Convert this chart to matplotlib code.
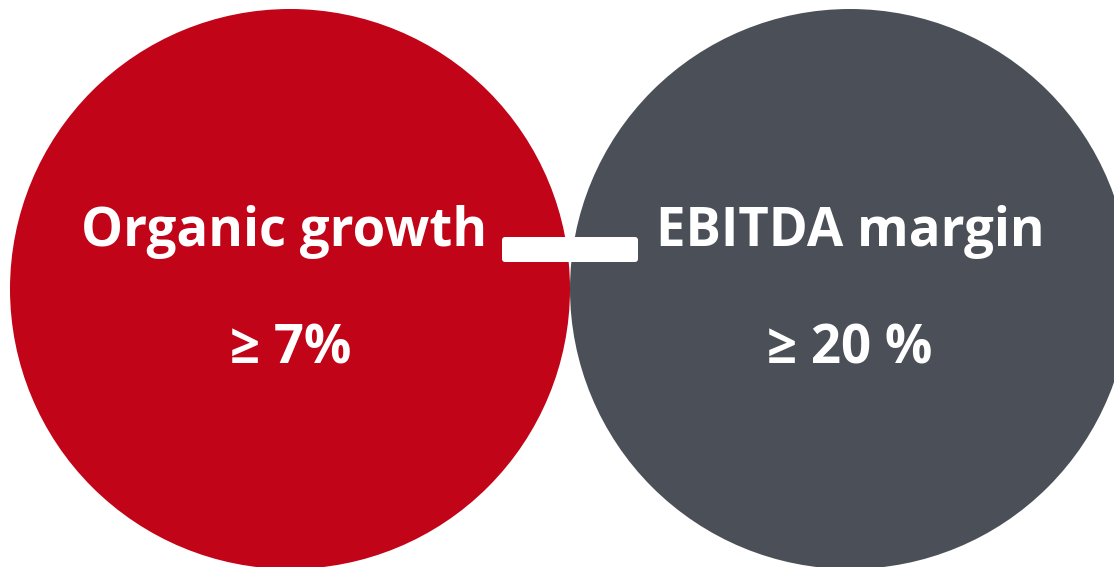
import matplotlib
matplotlib.use('Agg')
import matplotlib.pyplot as plt
from matplotlib.patches import Circle, FancyBboxPatch

# targets
labels = ['Organic growth', 'EBITDA margin']
values = ['\u2265 7%', '\u2265 20 %']
colors = ['#C10418', '#4B5058']

# layout (pixels, y down)
centers_x = [290, 850]
center_y = 289
radius = 280
label_x = [284, 850]
value_x = [291, 850]

W, H = 1114, 567
fig = plt.figure(figsize=(W / 100, H / 100), dpi=100)
ax = fig.add_axes([0, 0, 1, 1])
ax.set_xlim(0, W)
ax.set_ylim(H, 0)
ax.axis('off')

for cx, col in zip(centers_x, colors):
    ax.add_patch(Circle((cx, center_y), radius, color=col, lw=0))

# connector bar
ax.add_patch(FancyBboxPatch((502, 237), 136, 25,
                            boxstyle='round,pad=0,rounding_size=3',
                            fc='white', ec='none'))

for lx, vx, lab, val in zip(label_x, value_x, labels, values):
    ax.text(lx, 246, lab, color='white', fontsize=38, fontweight='bold',
            family='Open Sans', ha='center', va='baseline')
    ax.text(vx, 363, val, color='white', fontsize=38, fontweight='bold',
            family=['Open Sans', 'DejaVu Sans'], ha='center', va='baseline')

fig.savefig('out.png', dpi=100)
